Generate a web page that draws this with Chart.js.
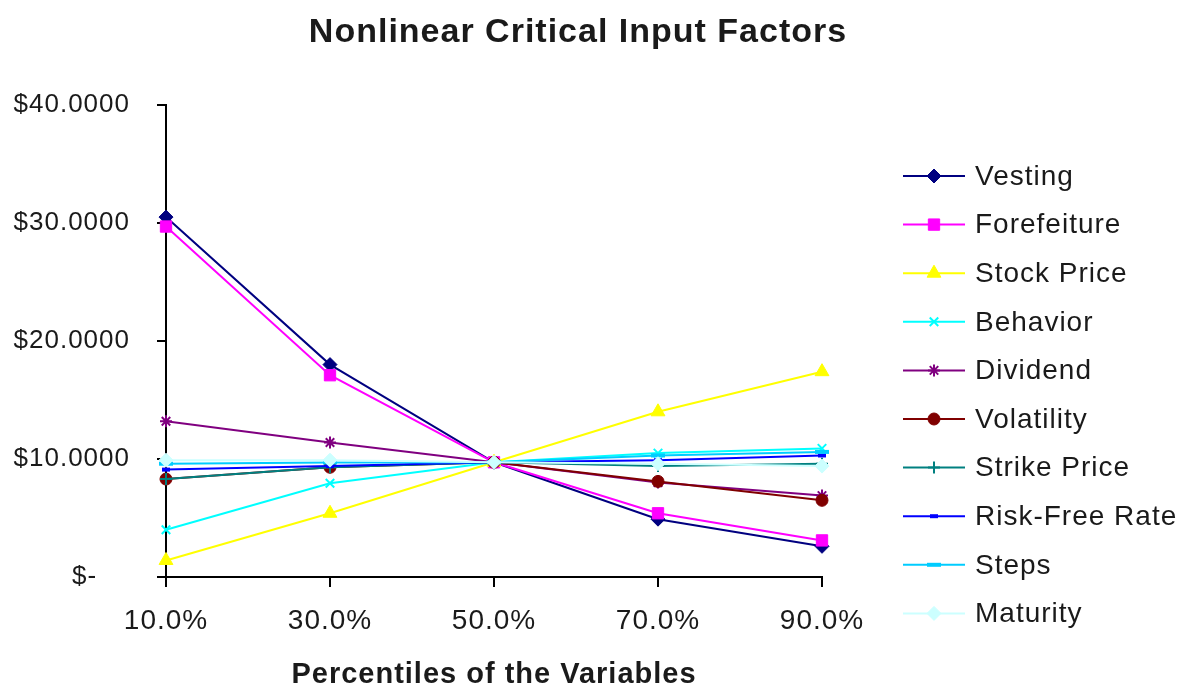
<!DOCTYPE html>
<html>
<head>
<meta charset="utf-8">
<title>Nonlinear Critical Input Factors</title>
<script src="https://cdn.jsdelivr.net/npm/chart.js@4.4.1/dist/chart.umd.min.js"></script>
<style>
  html, body { margin: 0; padding: 0; background: #fff; }
  canvas { display: block; }
</style>
</head>
<body>
<canvas id="factorsChart" width="1178" height="688"></canvas>
<script>
// categories and tick labels
const percentiles = ['10.0%', '30.0%', '50.0%', '70.0%', '90.0%'];
const yTickLabels = ['$-    ', '$10.0000', '$20.0000', '$30.0000', '$40.0000'];

// option value at each percentile, one list per input
const vesting      = [30.5, 18.0, 9.72, 4.9, 2.6];
const forfeiture   = [29.7, 17.1, 9.72, 5.4, 3.1];
const stockPrice   = [1.4, 5.4, 9.72, 14.0, 17.4];
const behavior     = [4.0, 7.95, 9.72, 10.5, 10.9];
const dividend     = [13.2, 11.4, 9.72, 8.0, 6.9];
const volatility   = [8.3, 9.3, 9.72, 8.1, 6.5];
const strikePrice  = [8.3, 9.3, 9.72, 9.4, 9.6];
const riskFreeRate = [9.1, 9.4, 9.72, 9.9, 10.3];
const steps        = [9.6, 9.7, 9.72, 10.3, 10.6];
const maturity     = [9.9, 9.9, 9.72, 9.6, 9.4];

const seriesNames = ['Vesting', 'Forefeiture', 'Stock Price', 'Behavior', 'Dividend',
  'Volatility', 'Strike Price', 'Risk-Free Rate', 'Steps', 'Maturity'];
const seriesValues = [vesting, forfeiture, stockPrice, behavior, dividend,
  volatility, strikePrice, riskFreeRate, steps, maturity];

const colors = ['#000080', '#ff00ff', '#ffff00', '#00ffff', '#800080',
  '#800000', '#008080', '#0000ff', '#00ccff', '#ccffff'];
const markers = [
  { style: 'rectRot',  radius: 7, width: 1 },
  { style: 'rect',     radius: 8, width: 1 },
  { style: 'triangle', radius: 8, width: 1 },
  { style: 'crossRot', radius: 6, width: 2 },
  { style: 'star',     radius: 6, width: 2 },
  { style: 'circle',   radius: 6, width: 1 },
  { style: 'cross',    radius: 6, width: 2 },
  { style: 'line',     radius: 4, width: 4 },
  { style: 'line',     radius: 7, width: 4 },
  { style: 'rectRot',  radius: 7, width: 1 }
];

const textColor = '#1a1a1a';
const fontFamily = '"Liberation Sans", Arial, sans-serif';
Chart.defaults.font.family = fontFamily;
Chart.defaults.color = textColor;

// Excel-like wide lettering for every piece of text
const letterSpacing = {
  id: 'letterSpacing',
  beforeUpdate(chart) { chart.ctx.letterSpacing = '1px'; },
  beforeDraw(chart) { chart.ctx.letterSpacing = '1px'; }
};

// title and key on the right, drawn beside the plot
const titleAndKey = {
  id: 'titleAndKey',
  afterDraw(chart) {
    const ctx = chart.ctx;
    ctx.save();
    ctx.fillStyle = textColor;
    ctx.font = 'bold 34px ' + fontFamily;
    ctx.textAlign = 'center';
    ctx.textBaseline = 'middle';
    ctx.fillText('Nonlinear Critical Input Factors', 578, 33);

    ctx.font = '28px ' + fontFamily;
    ctx.textAlign = 'left';
    seriesNames.forEach(function(name, i) {
      const y = 176 + i * 48.6;
      ctx.strokeStyle = colors[i];
      ctx.fillStyle = colors[i];
      ctx.lineWidth = 2;
      ctx.beginPath();
      ctx.moveTo(903, y);
      ctx.lineTo(965, y);
      ctx.stroke();
      ctx.lineWidth = markers[i].width;
      Chart.helpers.drawPoint(ctx, {
        pointStyle: markers[i].style,
        radius: markers[i].radius,
        rotation: 0,
        borderWidth: markers[i].width
      }, 934, y);
      ctx.fillStyle = textColor;
      ctx.fillText(name, 975, y + 1);
    });
    ctx.restore();
  }
};

const datasets = seriesNames.map(function(name, i) {
  return {
    label: name,
    data: seriesValues[i],
    borderColor: colors[i],
    backgroundColor: colors[i],
    borderWidth: 2,
    pointStyle: markers[i].style,
    pointRadius: markers[i].radius,
    pointBorderWidth: markers[i].width,
    pointBorderColor: colors[i],
    pointBackgroundColor: colors[i],
    tension: 0,
    clip: false,
    order: seriesNames.length - i
  };
});

const ctx = document.getElementById('factorsChart').getContext('2d');
const factorsChart = new Chart(ctx, {
  type: 'line',
  data: { labels: percentiles, datasets: datasets },
  options: {
    responsive: false,
    animation: false,
    layout: { padding: { top: 105, right: 356, bottom: 0, left: 0 } },
    plugins: {
      legend: { display: false },
      title: { display: false },
      tooltip: { enabled: false }
    },
    scales: {
      x: {
        offset: false,
        afterFit: function(scale) { scale.height = 111; },
        border: { color: '#000', width: 2 },
        grid: { drawOnChartArea: false, color: '#000', lineWidth: 2, tickLength: 10 },
        ticks: { font: { size: 28 }, padding: 17, color: textColor, maxRotation: 0 },
        title: {
          display: true,
          text: 'Percentiles of the Variables',
          font: { size: 29, weight: 'bold' },
          color: textColor,
          padding: { top: 0, bottom: -4 }
        }
      },
      y: {
        min: 0,
        max: 40,
        afterFit: function(scale) { scale.width = 166; },
        border: { color: '#000', width: 2 },
        grid: { drawOnChartArea: false, color: '#000', lineWidth: 2, tickLength: 9 },
        ticks: {
          stepSize: 10,
          font: { size: 26 },
          padding: 27,
          color: textColor,
          callback: function(value, index) { return yTickLabels[index]; }
        }
      }
    }
  },
  plugins: [letterSpacing, titleAndKey]
});
</script>
</body>
</html>
